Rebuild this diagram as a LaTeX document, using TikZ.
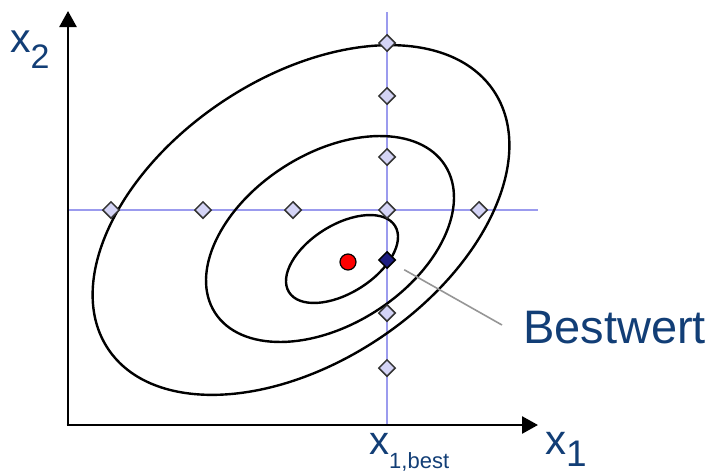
\documentclass[tikz,border=0pt]{standalone}
\usepackage{fontspec}
\setmainfont{Liberation Sans}
\usetikzlibrary{arrows.meta,shapes.geometric}
\definecolor{labelblue}{RGB}{18,62,118}
\definecolor{gridblue}{RGB}{155,155,238}
\definecolor{dfill}{RGB}{212,212,246}
\definecolor{bestfill}{RGB}{30,30,130}
\definecolor{leader}{RGB}{150,150,150}
\tikzset{
  axis/.style={line width=2.6pt,-{Triangle[length=16pt,width=17pt]}},
  searchline/.style={gridblue,line width=1.8pt},
  contour/.style={line width=2.4pt},
  probe/.style={diamond,draw=black!80,line width=1.5pt,fill=dfill,inner sep=0pt,minimum width=17pt,minimum height=17pt},
  bestprobe/.style={probe,fill=bestfill,draw=black},
  lbl/.style={labelblue,inner sep=0pt}
}
\begin{document}
\begin{tikzpicture}[x=1pt,y=-1pt]
\useasboundingbox (0,0) rectangle (712,474);
% coordinates
\coordinate (origin) at (68,425);
\coordinate (ytip) at (68,11);
\coordinate (xtip) at (538,425);
\coordinate (vtop) at (387,12);
\coordinate (vbot) at (387,425);
\coordinate (hleft) at (68,210);
\coordinate (hright) at (538,210);
% search lines
\draw[searchline] (vtop) -- (vbot);
\draw[searchline] (hleft) -- (hright);
% contours
\draw[contour] (301,220) ellipse [x radius=232pt, y radius=142pt, rotate=33.8];
\draw[contour] (330,239) ellipse [x radius=136.6pt, y radius=85.5pt, rotate=32.6];
\draw[contour] (342,259) ellipse [x radius=62.5pt, y radius=34.1pt, rotate=32];
% axes
\draw[axis] ([yshift=1.3pt]origin) -- (ytip);
\draw[axis] ([xshift=-1.3pt]origin) -- (xtip);
% probes on horizontal line
\node[probe] (h1) at (111,210) {};
\node[probe] (h2) at (203,210) {};
\node[probe] (h3) at (293,210) {};
\node[probe] (h4) at (387,210) {};
\node[probe] (h5) at (479,210) {};
% probes on vertical line
\node[probe] (v1) at (387,43) {};
\node[probe] (v2) at (387,96) {};
\node[probe] (v3) at (387,157) {};
\node[probe] (v5) at (387,313) {};
\node[probe] (v6) at (387,368) {};
\node[bestprobe] (best) at (387,260) {};
% optimum
\node[circle,fill=red,draw=black,line width=1.2pt,minimum size=16pt,inner sep=0pt] (opt) at (348,262) {};
% leader
\coordinate (leadend) at (502,325);
\draw[leader,line width=1.6pt,shorten <=13pt] (best) -- (leadend);
% labels
\node[lbl,anchor=base west] (bw) at (523,343) {\fontsize{47}{50}\selectfont Bestwert};
\node[lbl,anchor=base west] (xtwo) at (10,52) {\fontsize{41}{44}\selectfont x\raisebox{-16pt}{\fontsize{34}{36}\selectfont 2}};
\node[lbl,anchor=base west] (xone) at (545,454) {\fontsize{42}{44}\selectfont x\raisebox{-12pt}{\fontsize{37}{40}\selectfont 1}};
\node[lbl,anchor=base west] (xbest) at (369,454) {\fontsize{40}{42}\selectfont x\raisebox{-14pt}{\fontsize{22}{24}\selectfont 1,best}};
\end{tikzpicture}
\end{document}
